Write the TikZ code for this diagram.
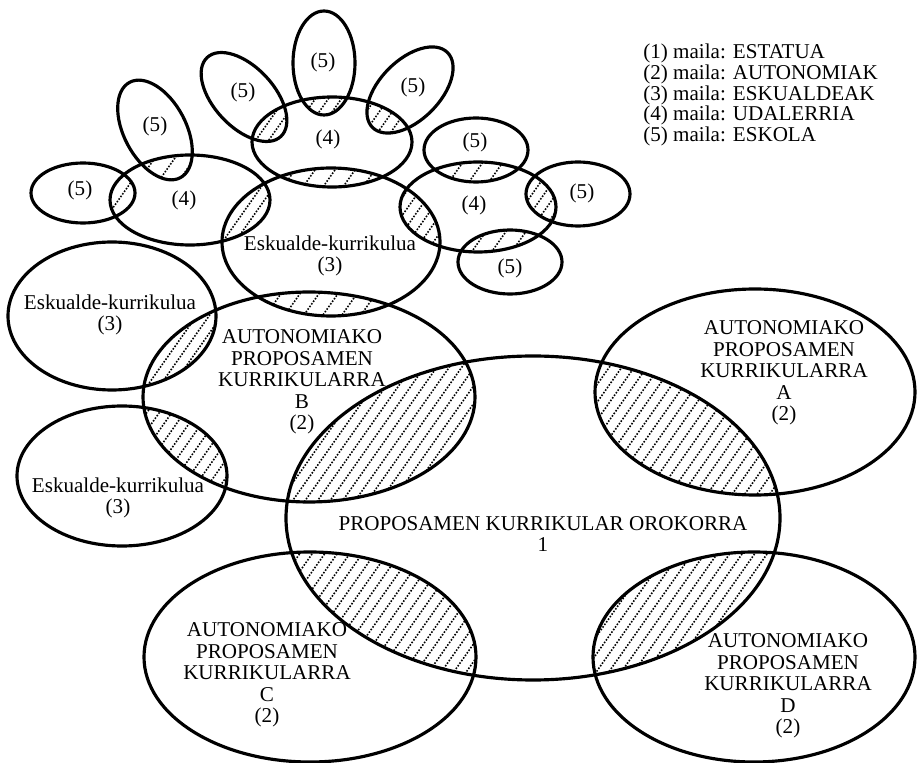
\documentclass[tikz,border=0pt]{standalone}
\usepackage{fontspec}
\setmainfont{Liberation Serif}
\tikzset{
  ring/.style     ={line width=1.8pt},
  hatchline/.style={line width=0.9pt,dash pattern=on 0.9pt off 0.9pt},
  lbl/.style      ={font=\fontsize{12}{12.2}\selectfont,align=center,inner sep=0pt},
  legend/.style   ={lbl,align=left,anchor=west,font=\fontsize{12}{11.9}\selectfont},
}
% ellipses (pixel grid, y downwards)
\newcommand{\ellCen}{(533,518) ellipse [x radius=247, y radius=162]}
\newcommand{\ellA}{(755,392) ellipse [x radius=160, y radius=103]}
\newcommand{\ellB}{(309,397) ellipse [x radius=166, y radius=105]}
\newcommand{\ellC}{(310,657) ellipse [x radius=166, y radius=105]}
\newcommand{\ellD}{(754,657) ellipse [x radius=161, y radius=105]}
\newcommand{\ellEsk}{(331,242) ellipse [x radius=109, y radius=74]}
\newcommand{\ellEskN}{(112,316) ellipse [x radius=104, y radius=74]}
\newcommand{\ellEskS}{(122,476) ellipse [x radius=105, y radius=70]}
\newcommand{\ellUdW}{(190,200) ellipse [x radius=80, y radius=45]}
\newcommand{\ellUdN}{(332,142) ellipse [x radius=80, y radius=45]}
\newcommand{\ellUdE}{(478,207) ellipse [x radius=78, y radius=45]}
\newcommand{\ellSchA}{(83,193) ellipse [x radius=52, y radius=30]}
\newcommand{\ellSchB}{(155,130) ellipse [x radius=31, y radius=54, rotate=28]}
\newcommand{\ellSchC}{(244,97) ellipse [x radius=54, y radius=30, rotate=-47]}
\newcommand{\ellSchD}{(324,63) ellipse [x radius=31, y radius=52]}
\newcommand{\ellSchE}{(410,90) ellipse [x radius=53, y radius=30, rotate=45]}
\newcommand{\ellSchF}{(476,150) ellipse [x radius=52, y radius=32]}
\newcommand{\ellSchG}{(578,194) ellipse [x radius=52, y radius=32]}
\newcommand{\ellSchH}{(510,262) ellipse [x radius=52, y radius=32]}
% hatch the lens of two ellipses: #3,#4 centre, #5 spacing
\newcommand{\hatch}[5]{%
  \begin{scope}
    \clip #1; \clip #2;
    \foreach \k in {-25,...,25}
      \draw[hatchline] ({#3+\k*#5-120},{#4+170}) -- ++(240,-340);
  \end{scope}}

\begin{document}
\begin{tikzpicture}[x=0.02cm,y=-0.02cm]
  \useasboundingbox (0,0) rectangle (917,763);
  % hatched overlaps
  \hatch{\ellCen}{\ellA}{690}{430}{12.5}
  \hatch{\ellCen}{\ellB}{380}{430}{12.5}
  \hatch{\ellCen}{\ellC}{385}{610}{12.5}
  \hatch{\ellCen}{\ellD}{690}{610}{12.5}
  \hatch{\ellB}{\ellEskN}{185}{350}{12.5}
  \hatch{\ellB}{\ellEskS}{190}{440}{12.5}
  \hatch{\ellB}{\ellEsk}{330}{305}{19}
  \hatch{\ellEsk}{\ellUdW}{245}{210}{12.5}
  \hatch{\ellEsk}{\ellUdN}{330}{177}{20}
  \hatch{\ellEsk}{\ellUdE}{415}{215}{12.5}
  \hatch{\ellUdW}{\ellSchA}{122}{195}{20}
  \hatch{\ellUdW}{\ellSchB}{170}{165}{20}
  \hatch{\ellUdN}{\ellSchC}{270}{120}{13}
  \hatch{\ellUdN}{\ellSchD}{324}{105}{13}
  \hatch{\ellUdN}{\ellSchE}{390}{115}{13}
  \hatch{\ellUdE}{\ellSchF}{476}{172}{20}
  \hatch{\ellUdE}{\ellSchG}{540}{200}{12}
  \hatch{\ellUdE}{\ellSchH}{500}{240}{20}
  % outlines
  \foreach \e in {\ellCen,\ellA,\ellB,\ellC,\ellD,\ellEsk,\ellEskN,\ellEskS,
                  \ellUdW,\ellUdN,\ellUdE,\ellSchA,\ellSchB,\ellSchC,\ellSchD,
                  \ellSchE,\ellSchF,\ellSchG,\ellSchH}
    \draw[ring] \e;
  % labels
  \node[lbl] (cen)  at (543,534) {PROPOSAMEN KURRIKULAR OROKORRA\\1};
  \node[lbl] (autA) at (784,373) {AUTONOMIAKO\\PROPOSAMEN\\KURRIKULARRA\\A\\(2)};
  \node[lbl] (autB) at (302,382) {AUTONOMIAKO\\PROPOSAMEN\\KURRIKULARRA\\B\\(2)};
  \node[lbl] (autC) at (267,675) {AUTONOMIAKO\\PROPOSAMEN\\KURRIKULARRA\\C\\(2)};
  \node[lbl] (autD) at (788,686) {AUTONOMIAKO\\PROPOSAMEN\\KURRIKULARRA\\D\\(2)};
  \node[lbl] (eskN) at (110,315) {Eskualde-kurrikulua\\(3)};
  \node[lbl] (eskS) at (118,498) {Eskualde-kurrikulua\\(3)};
  \node[lbl] (eskC) at (330,256) {Eskualde-kurrikulua\\(3)};
  \node[lbl] (udW)  at (184,200) {(4)};
  \node[lbl] (udN)  at (328,139) {(4)};
  \node[lbl] (udE)  at (474,205) {(4)};
  \node[lbl] (schA) at (80,190)  {(5)};
  \node[lbl] (schB) at (155,126) {(5)};
  \node[lbl] (schC) at (243,92)  {(5)};
  \node[lbl] (schD) at (323,62)  {(5)};
  \node[lbl] (schE) at (413,87)  {(5)};
  \node[lbl] (schF) at (475,142) {(5)};
  \node[lbl] (schG) at (582,193) {(5)};
  \node[lbl] (schH) at (510,268) {(5)};
  \node[legend] (key) at (643,95) {(1) maila: ESTATUA\\(2) maila: AUTONOMIAK\\(3) maila: ESKUALDEAK\\(4) maila: UDALERRIA\\(5) maila: ESKOLA};
\end{tikzpicture}
\end{document}
